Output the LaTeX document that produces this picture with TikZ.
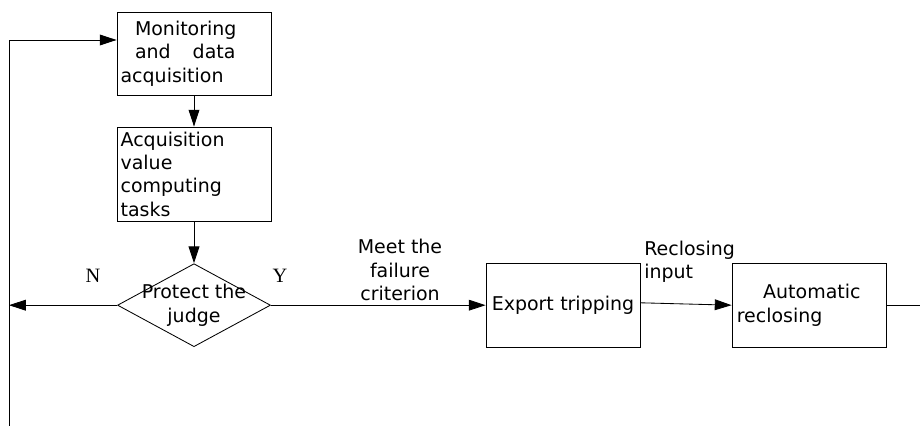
\documentclass[tikz,border=0pt]{standalone}
\usepackage{fontspec}
\setmainfont{DejaVu Sans}
\newfontfamily\ynfont{Liberation Serif}
\usetikzlibrary{arrows.meta,shapes.geometric}
\tikzset{
	block/.style={draw, line width=0.6pt, minimum width=3.85cm, inner xsep=0.09cm, inner ysep=0pt, text width=3.67cm, align=left},
	decision/.style={draw, diamond, line width=0.6pt, inner sep=0pt, minimum width=3.825cm, minimum height=2.075cm},
	flow/.style={line width=0.6pt, -{Triangle[length=0.42cm,width=0.27cm]}},
	plain/.style={line width=0.6pt},
	yn/.style={font=\ynfont\fontsize{14.5}{17}\selectfont}
}

\begin{document}
\begin{tikzpicture}[font=\fontsize{13.5}{16.6}\selectfont]
			%%%%% START %%%%%
			\useasboundingbox (0, 0) rectangle (23, 10.65);
			
			\node[block, minimum height=2.075cm] (mon) at (4.85, 9.3125) {\hspace*{0.36cm}Monitoring\\\hspace*{0.36cm}and\hspace{0.55cm}data\\acquisition};
			\node[block, minimum height=2.35cm] (comp) at (4.85, 6.3) {Acquisition\\value\\computing\\tasks};
			\node[decision, label={[align=center, inner sep=0pt]center:Protect the\\judge}] (judge) at (4.85, 3.02) {};
			
			\node[block, minimum height=2.1cm, align=center] (trip) at (14.075, 3.02) {Export tripping};
			\node[block, minimum height=2.1cm, inner xsep=0.12cm, text width=3.61cm] (auto) at (20.225, 3.02) {\hspace*{0.66cm}Automatic\\reclosing};
			
			\node[yn] (no) at (2.325, 3.75) {N};
			\node[yn] (yes) at (7.0, 3.75) {Y};
			\node[align=center] (meet) at (10.0, 3.9) {Meet the\\failure\\criterion};
			\node[align=left, anchor=west, inner sep=0pt] (recl) at (16.1, 4.1) {Reclosing\\input};
			
			\coordinate (looptop) at (0.225, 9.65);
			\coordinate (loopbot) at (0.225, 0);
			\coordinate (outend) at (23, 3.02);
			
			\draw[flow] (mon) -- (comp);
			\draw[flow] (comp) -- (judge);
			\draw[flow] (judge.west) -- (judge.west -| looptop);
			\draw[plain] (loopbot) -- (looptop);
			\draw[flow] (looptop) -- (looptop -| mon.west);
			\draw[flow] (judge.east) -- (trip.west);
			\draw[flow] ([yshift=0.06cm]trip.east) -- (auto.west);
			\draw[plain] (auto.east) -- (outend);
			
			%%%%% END %%%%%
		\end{tikzpicture}
\end{document}
